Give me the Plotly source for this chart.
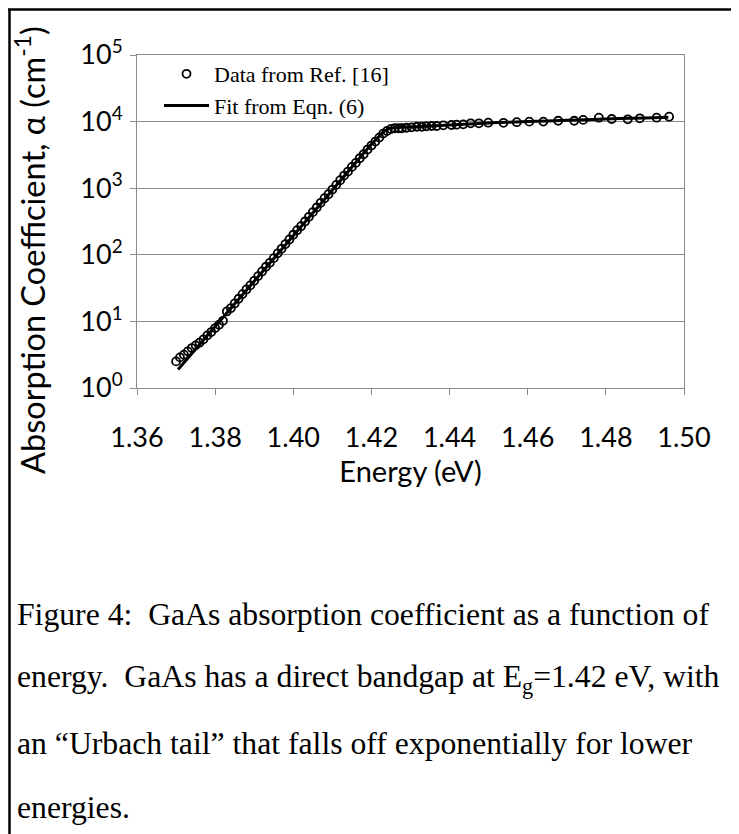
import plotly.graph_objects as go

# Data
energy_data = [
    1.370, 1.371, 1.372, 1.373, 1.374, 1.375, 1.376, 1.377, 1.378, 1.379,
    1.380, 1.381, 1.382, 1.383, 1.384, 1.385, 1.386, 1.387, 1.388, 1.389,
    1.390, 1.391, 1.392, 1.393, 1.394, 1.395, 1.396, 1.397, 1.398, 1.399,
    1.400, 1.401, 1.402, 1.403, 1.404, 1.405, 1.406, 1.407, 1.408, 1.409,
    1.410, 1.411, 1.412, 1.413, 1.414, 1.415, 1.416, 1.417, 1.418, 1.419,
    1.420, 1.421, 1.422, 1.423, 1.424, 1.425, 1.426, 1.427, 1.4278, 1.4290,
    1.4303, 1.4316, 1.4329, 1.4341, 1.4354, 1.4367, 1.4384, 1.4405, 1.4418, 1.4435,
    1.4454, 1.4475, 1.4499, 1.4538, 1.4572, 1.4604, 1.4640, 1.4678, 1.4719, 1.4742,
    1.4782, 1.4815, 1.4856, 1.4887, 1.4930, 1.4962,
]
alpha_data = [
    2.51, 2.88, 3.16, 3.55, 3.98, 4.37, 4.79, 5.37, 6.17, 6.92,
    7.94, 8.91, 10.2, 14.1, 15.8, 18.6, 21.9, 25.7, 30.2, 34.7,
    40.7, 47.9, 56.2, 66.1, 75.9, 89.1, 105, 123, 145, 170,
    200, 234, 269, 316, 372, 437, 513, 603, 708, 813,
    955, 1122, 1318, 1549, 1778, 2089, 2399, 2818, 3236, 3802,
    4365, 5012, 5754, 6607, 7244, 7762, 7943, 7943, 7950, 8090,
    8200, 8370, 8370, 8490, 8590, 8590, 8800, 8890, 8990, 9100,
    9420, 9420, 9620, 9600, 9800, 9980, 10000, 10300, 10300, 10600,
    11450, 10950, 10830, 11200, 11450, 11850,
]

energy_fit = [1.3705, 1.390, 1.410, 1.420, 1.422, 1.423, 1.424, 1.425, 1.427,
              1.430, 1.440, 1.450, 1.460, 1.470, 1.480, 1.490, 1.496]
alpha_fit = [1.9, 40, 933, 4570, 6030, 6920, 7590, 7940, 8130,
             8320, 8910, 9550, 10000, 10470, 10960, 11350, 11610]

y_tick_vals = [1, 10, 100, 1000, 10000, 100000]
y_tick_text = ["10<sup>0</sup>", "10<sup>1</sup>", "10<sup>2</sup>",
               "10<sup>3</sup>", "10<sup>4</sup>", "10<sup>5</sup>"]

caption_lines = [
    "Figure 4:\u00a0 GaAs absorption coefficient as a function of",
    "energy.\u00a0 GaAs has a direct bandgap at E<sub>g</sub>=1.42 eV, with",
    "an \u201cUrbach tail\u201d that falls off exponentially for lower",
    "energies.",
]

sans = "Lato, Open Sans, sans-serif"
serif = "Liberation Serif, Times New Roman, serif"
grey = "#8c8c8c"

# page body has an 8px margin, so the figure is 8px smaller and shifted
OFF = 8
W, H = 739 - OFF, 834 - OFF
L, R, T, B = 137 - OFF, 684 - OFF, 55 - OFF, 388 - OFF
pw, ph = R - L, B - T


def px(x):
    # page x (as in the reference) -> paper x
    return (x - OFF - L) / pw


def py(y):
    # page y (as in the reference) -> paper y
    return (B - (y - OFF)) / ph


fig = go.Figure()

fig.add_trace(go.Scatter(
    x = energy_data,
    y = alpha_data,
    mode = "markers",
    name = "Data from Ref. [16]",
    marker = dict(symbol = "circle-open", size = 8, color = "black", line = dict(width = 1.8)),
))

fig.add_trace(go.Scatter(
    x = energy_fit,
    y = alpha_fit,
    mode = "lines",
    name = "Fit from Eqn. (6)",
    line = dict(color = "black", width = 3),
    line_shape = "spline",
))

fig.update_layout(
    width = W,
    height = H,
    margin = dict(l = L, r = W - R, t = T, b = H - B),
    paper_bgcolor = "white",
    plot_bgcolor = "white",
    font = dict(family = sans, color = "black", size = 27),
    showlegend = True,
    legend = dict(
        x = px(159), y = py(53), xanchor = "left", yanchor = "top",
        font = dict(family = serif, size = 22, color = "black"),
        bgcolor = "rgba(0,0,0,0)",
        tracegroupgap = 0,
        itemwidth = 45,
    ),
)

fig.update_xaxes(
    range = [1.36, 1.50],
    dtick = 0.02,
    tickformat = ".2f",
    showgrid = False,
    showline = True,
    linecolor = grey,
    linewidth = 1,
    mirror = True,
    ticks = "outside",
    ticklen = 6,
    tickcolor = grey,
    ticklabelstandoff = 20,
    tickfont = dict(family = sans, size = 27),
    title = dict(text = "Energy (eV)", font = dict(family = sans, size = 29), standoff = 8),
)

fig.update_yaxes(
    type = "log",
    range = [0, 5],
    tickvals = y_tick_vals,
    ticktext = y_tick_text,
    showgrid = True,
    gridcolor = grey,
    gridwidth = 1,
    showline = True,
    linecolor = grey,
    linewidth = 1,
    mirror = True,
    ticks = "outside",
    ticklen = 6,
    tickcolor = grey,
    ticklabelstandoff = 2,
    tickfont = dict(family = sans, size = 27),
)

# rotated y title, placed a bit below the plot centre like the original
fig.add_annotation(
    x = px(30), y = py(250), xref = "paper", yref = "paper",
    xanchor = "center", yanchor = "middle",
    text = "Absorption Coefficient, \u03b1 (cm<sup>-1</sup>)",
    textangle = -90, showarrow = False,
    font = dict(family = sans, size = 32.5, color = "black"),
)

# caption
for i, line in enumerate(caption_lines):
    fig.add_annotation(
        x = px(15), y = py(614 + 64.5 * i), xref = "paper", yref = "paper",
        xanchor = "left", yanchor = "middle",
        text = line, showarrow = False,
        font = dict(family = serif, size = 31.7, color = "black"),
    )

# black frame round the figure (top and left edges)
fig.add_shape(type = "line", xref = "paper", yref = "paper",
              x0 = px(8), x1 = px(760), y0 = py(9.5), y1 = py(9.5),
              line = dict(color = "black", width = 2.5))
fig.add_shape(type = "line", xref = "paper", yref = "paper",
              x0 = px(9.5), x1 = px(9.5), y0 = py(9), y1 = py(850),
              line = dict(color = "black", width = 2.5))

fig.write_html("out.html")
